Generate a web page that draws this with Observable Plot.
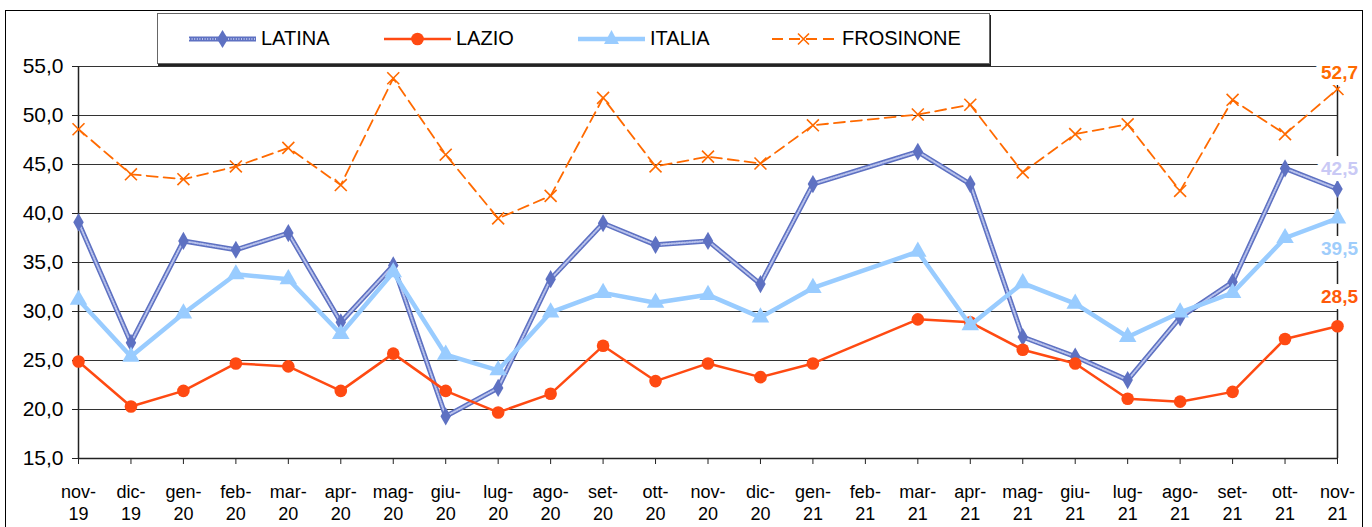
<!DOCTYPE html>
<html>
<head>
<meta charset="utf-8">
<script src="https://cdn.jsdelivr.net/npm/d3@7"></script>
<script src="https://cdn.jsdelivr.net/npm/@observablehq/plot@0.6"></script>
<style>
  html, body { margin: 0; padding: 0; background: #fff; overflow: hidden; }
  #wrap { position: relative; width: 1372px; height: 527px; font-family: "Liberation Sans", Arial, sans-serif; }
  #frame { position: absolute; left: 5px; top: 10px; width: 1358px; height: 540px; border: 1.5px solid #000; box-sizing: border-box; z-index: 3; pointer-events: none; }
  #chart { position: absolute; left: 0; top: 0; }
  #legend { position: absolute; left: 157px; top: 13px; width: 833px; height: 51px; border: 1px solid #666; box-shadow: 1px 2px 0 #222; background: #fff; box-sizing: border-box; z-index: 2; }
  .item { position: absolute; top: 0; height: 49px; display: flex; align-items: center; font-size: 20px; color: #000; }
  .item svg { margin-right: 5px; }
</style>
</head>
<body>
<div id="wrap">
  <div id="frame"></div>
  <div id="chart"></div>
  <div id="legend"></div>
</div>
<script>
// ---- data ----
const months = ["nov-19","dic-19","gen-20","feb-20","mar-20","apr-20","mag-20","giu-20","lug-20","ago-20","set-20","ott-20","nov-20","dic-20","gen-21","feb-21","mar-21","apr-21","mag-21","giu-21","lug-21","ago-21","set-21","ott-21","nov-21"];
const latina    = [39.1, 26.8, 37.2, 36.3, 38.0, 28.9, 34.7, 19.3, 22.2, 33.3, 39.0, 36.8, 37.2, 32.8, 43.0, null, 46.3, 43.0, 27.4, 25.4, 23.0, 29.4, 33.0, 44.6, 42.5];
const lazio     = [24.9, 20.3, 21.9, 24.7, 24.4, 21.9, 25.7, 21.9, 19.7, 21.6, 26.5, 22.9, 24.7, 23.3, 24.7, null, 29.2, 28.9, 26.1, 24.7, 21.1, 20.8, 21.8, 27.2, 28.5];
const italia    = [31.2, 25.4, 29.8, 33.8, 33.3, 27.7, 34.0, 25.6, 24.0, 29.9, 31.9, 30.9, 31.7, 29.4, 32.4, null, 36.1, 28.6, 32.9, 30.8, 27.4, 29.9, 31.9, 37.5, 39.5];
const frosinone = [48.6, 44.0, 43.5, 44.8, 46.7, 42.9, 53.8, 46.0, 39.5, 41.8, 51.8, 44.8, 45.8, 45.1, 49.0, null, 50.1, 51.1, 44.2, 48.1, 49.1, 42.3, 51.6, 48.1, 52.7];
const seriesNames = ["LATINA", "LAZIO", "ITALIA", "FROSINONE"];
const yTicks = [15, 20, 25, 30, 35, 40, 45, 50, 55];

// ---- styles ----
const colors = { LATINA: "#5e71c2", LAZIO: "#ff4a12", ITALIA: "#99ccff", FROSINONE: "#ff6a00" };
const labelColors = { LATINA: "#c9c9f5", LAZIO: "#ff5a0a", ITALIA: "#9fcdfb", FROSINONE: "#ff6a00" };
const labelDy = { LATINA: -20, LAZIO: -29, ITALIA: 31, FROSINONE: -16 };

const valuesBy = { LATINA: latina, LAZIO: lazio, ITALIA: italia, FROSINONE: frosinone };
const rows = seriesNames.flatMap(s => months.map((m, i) => ({ month: m, series: s, value: valuesBy[s][i] })))
  .filter(d => d.value != null);
const of = s => rows.filter(d => d.series === s);
const lastOf = s => [{ month: months[months.length - 1], series: s, value: valuesBy[s][months.length - 1] }];
const fmt = v => v.toFixed(1).replace(".", ",");

const labelMarks = seriesNames.map(s => Plot.text(lastOf(s), {
  x: "month", y: "value", text: d => fmt(d.value),
  dy: labelDy[s], dx: 2,
  fill: labelColors[s], stroke: "white", strokeWidth: 12, strokeLinejoin: "round",
  fontSize: 19, fontWeight: "bold"
}));

const chart = Plot.plot({
  width: 1372,
  height: 527,
  marginLeft: 78,
  marginRight: 35,
  marginTop: 66,
  marginBottom: 69,
  style: { fontFamily: "'Liberation Sans', Arial, sans-serif", background: "transparent", color: "#000" },
  x: { type: "point", domain: months, padding: 0, round: false },
  y: { domain: [15, 55] },
  marks: [
    Plot.gridY(yTicks, { stroke: "#333", strokeOpacity: 1, strokeWidth: 1 }),
    Plot.ruleX([months[0], months[months.length - 1]], { stroke: "#222", strokeWidth: 1.5 }),
    Plot.ruleY([15], { stroke: "#222", strokeWidth: 1.5 }),
    Plot.axisY({ ticks: yTicks, tickSize: 6, tickPadding: 9, fontSize: 21, tickFormat: fmt, label: null, stroke: "#222" }),
    Plot.axisX({ tickSize: 6, tickPadding: 18, fontSize: 18, lineHeight: 1.22, tickFormat: d => d.replace("-", "-\n"), label: null, stroke: "#222" }),
    // LATINA (textured band)
    Plot.line(of("LATINA"), { x: "month", y: "value", stroke: colors.LATINA, strokeWidth: 5 }),
    Plot.line(of("LATINA"), { x: "month", y: "value", stroke: "#b8c2ec", strokeWidth: 2, strokeDasharray: "1,1.6" }),
    Plot.dot(of("LATINA"), { x: "month", y: "value", symbol: "diamond", r: 5.5, fill: colors.LATINA, stroke: "none" }),
    // LAZIO
    Plot.line(of("LAZIO"), { x: "month", y: "value", stroke: colors.LAZIO, strokeWidth: 2.5 }),
    Plot.dot(of("LAZIO"), { x: "month", y: "value", symbol: "circle", r: 6.3, fill: colors.LAZIO, stroke: "none" }),
    // ITALIA
    Plot.line(of("ITALIA"), { x: "month", y: "value", stroke: colors.ITALIA, strokeWidth: 4.5 }),
    Plot.dot(of("ITALIA"), { x: "month", y: "value", symbol: "triangle", r: 6.5, fill: colors.ITALIA, stroke: "none" }),
    // FROSINONE
    Plot.line(of("FROSINONE"), { x: "month", y: "value", stroke: colors.FROSINONE, strokeWidth: 1.8, strokeDasharray: "11,6" }),
    Plot.dot(of("FROSINONE"), { x: "month", y: "value", symbol: "times", r: 5.5, stroke: colors.FROSINONE, strokeWidth: 1.6 }),
    // end labels
    ...labelMarks
  ]
});
document.getElementById("chart").appendChild(chart);
</script>
<script>
// legend
(function () {
  const legend = document.getElementById("legend");
  const items = [
    { name: "LATINA", left: 31, kind: "diamond" },
    { name: "LAZIO", left: 226, kind: "circle" },
    { name: "ITALIA", left: 420, kind: "triangle" },
    { name: "FROSINONE", left: 612, kind: "times" }
  ];
  const col = { LATINA: "#5e71c2", LAZIO: "#ff4a12", ITALIA: "#99ccff", FROSINONE: "#ff6a00" };
  for (const it of items) {
    const div = document.createElement("div");
    div.className = "item";
    div.style.left = it.left + "px";
    const c = col[it.name];
    let sw = "";
    if (it.kind === "diamond") {
      sw = `<line x1="0" y1="12" x2="67" y2="12" stroke="${c}" stroke-width="5"/>
            <line x1="0" y1="12" x2="67" y2="12" stroke="#b8c2ec" stroke-width="2" stroke-dasharray="1,1.6"/>
            <path d="M33.5,3 L39,12 L33.5,21 L28,12 Z" fill="${c}"/>`;
    } else if (it.kind === "circle") {
      sw = `<line x1="0" y1="12" x2="67" y2="12" stroke="${c}" stroke-width="2.5"/>
            <circle cx="33.5" cy="12" r="6.3" fill="${c}"/>`;
    } else if (it.kind === "triangle") {
      sw = `<line x1="0" y1="12" x2="67" y2="12" stroke="${c}" stroke-width="4.5"/>
            <path d="M33.5,3 L41,17 L26,17 Z" fill="${c}"/>`;
    } else {
      sw = `<line x1="0" y1="12" x2="67" y2="12" stroke="${c}" stroke-width="1.8" stroke-dasharray="11,6" stroke-dashoffset="-2"/>
            <path d="M28,6.5 L39,17.5 M39,6.5 L28,17.5" stroke="${c}" stroke-width="1.6"/>`;
    }
    div.innerHTML = `<svg width="67" height="24" viewBox="0 0 67 24">${sw}</svg><span>${it.name}</span>`;
    legend.appendChild(div);
  }
})();
</script>
</body>
</html>
